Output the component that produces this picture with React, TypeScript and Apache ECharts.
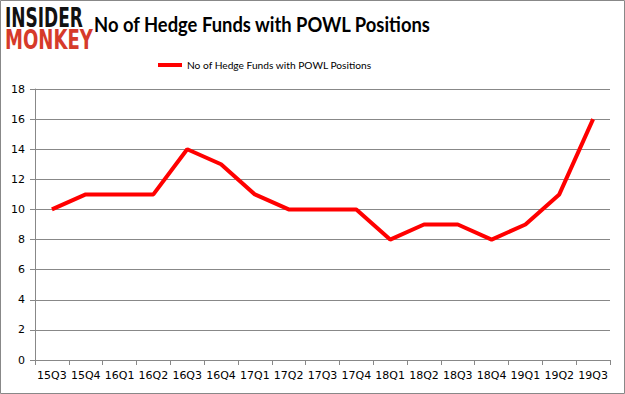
import React, { useEffect, useRef } from "react";
import * as echarts from "echarts";

const categories = ["15Q3","15Q4","16Q1","16Q2","16Q3","16Q4","17Q1","17Q2","17Q3","17Q4","18Q1","18Q2","18Q3","18Q4","19Q1","19Q2","19Q3"];
const values = [10, 11, 11, 11, 14, 13, 11, 10, 10, 10, 8, 9, 9, 8, 9, 11, 16];
const seriesName = "No of Hedge Funds with POWL Positions";
const titleText = "No of Hedge Funds with POWL Positions";

export default function App() {
  const ref = useRef<HTMLDivElement>(null);
  useEffect(() => {
    document.body.style.margin = "0";
    const chart = echarts.init(ref.current!, null, { renderer: "svg" });
    chart.setOption({
      animation: false,
      backgroundColor: "#fff",
      legend: {
        top: 55,
        left: 153,
        itemWidth: 24,
        itemHeight: 4,
        itemGap: 2,
        icon: "rect",
        textStyle: { fontFamily: "Lato", fontSize: 10.2, color: "#000" },
        data: [seriesName],
      },
      grid: { left: 35, right: 15, top: 89, bottom: 34 },
      xAxis: {
        type: "category",
        data: categories,
        boundaryGap: true,
        axisLine: { lineStyle: { color: "#888" } },
        axisTick: { show: true, alignWithLabel: false, length: 5, lineStyle: { color: "#888" } },
        axisLabel: { fontFamily: "DejaVu Sans", fontSize: 11, color: "#000", margin: 10, interval: 0 },
      },
      yAxis: {
        type: "value",
        min: 0,
        max: 18,
        interval: 2,
        axisLine: { show: true, lineStyle: { color: "#888" } },
        axisTick: { show: true, length: 5, lineStyle: { color: "#888" } },
        splitLine: { lineStyle: { color: "#888" } },
        axisLabel: { fontFamily: "DejaVu Sans", fontSize: 11, color: "#000", margin: 10 },
      },
      series: [
        {
          name: seriesName,
          type: "line",
          data: values,
          symbol: "none",
          lineStyle: { color: "#ff0000", width: 4 },
          itemStyle: { color: "#ff0000" },
        },
      ],
      graphic: [
        {
          type: "rect",
          shape: { x: 0.5, y: 0.5, width: 624, height: 393 },
          style: { fill: "none", stroke: "#888", lineWidth: 1 },
          silent: true,
        },
        {
          type: "text",
          x: 94,
          y: 12,
          scaleX: 0.855,
          style: { text: titleText, fontFamily: "Lato", fontWeight: "bold", fontSize: 21.5, fill: "#000" },
        },
        {
          type: "text",
          x: 5,
          y: 4,
          scaleX: 0.63,
          style: { text: "INSIDER", fontFamily: "DejaVu Sans", fontWeight: "bold", fontSize: 27, fill: "#111" },
        },
        {
          type: "text",
          x: 5,
          y: 26,
          scaleX: 0.67,
          style: { text: "MONKEY", fontFamily: "DejaVu Sans", fontWeight: "bold", fontSize: 27, fill: "#d63a2a" },
        },
      ],
    });
    return () => chart.dispose();
  }, []);
  return <div ref={ref} style={{ width: 625, height: 394 }} />;
}
